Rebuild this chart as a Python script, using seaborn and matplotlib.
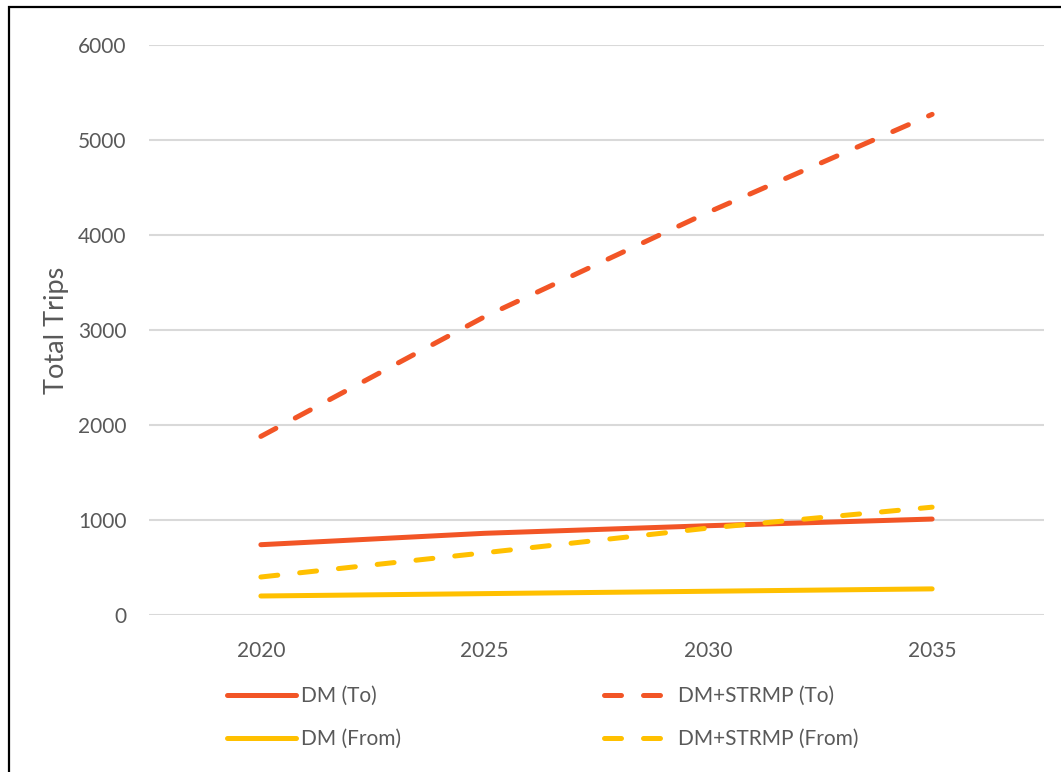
import matplotlib
matplotlib.use("Agg")
import matplotlib.pyplot as plt
import matplotlib.patches as mpatches
import seaborn as sns
import pandas as pd

years = ["2020", "2025", "2030", "2035"]
dm_to = [740, 860, 940, 1010]
dm_from = [200, 225, 250, 275]
strmp_to = [1880, 3140, 4240, 5270]
strmp_from = [400, 655, 915, 1135]

series_names = ["DM (To)", "DM (From)", "DM+STRMP (To)", "DM+STRMP (From)"]
series_values = [dm_to, dm_from, strmp_to, strmp_from]
colors = {"DM (To)": "#F25526", "DM (From)": "#FFC000",
          "DM+STRMP (To)": "#F25526", "DM+STRMP (From)": "#FFC000"}
dashes = {"DM (To)": "", "DM (From)": "",
          "DM+STRMP (To)": (3.4, 4.4), "DM+STRMP (From)": (3.4, 4.4)}

rows = []
for name, vals in zip(series_names, series_values):
    for y, v in zip(years, vals):
        rows.append({"Year": y, "Trips": v, "Series": name})
df = pd.DataFrame(rows)

sns.set_theme(style="white")
plt.rcParams["font.family"] = ["Lato", "DejaVu Sans"]
text_color = "#595959"

fig = plt.figure(figsize=(10.61, 7.72), dpi=100)
ax = fig.add_axes([149 / 1061, 1 - 615 / 772, (1044 - 149) / 1061, (615 - 45) / 772])

sns.lineplot(data=df, x="Year", y="Trips", hue="Series", style="Series",
             hue_order=series_names, style_order=series_names,
             palette=colors, dashes=dashes, linewidth=3.6, ax=ax,
             solid_capstyle="round", dash_capstyle="round", sort=False)

ax.set_xlim(-0.5, 3.5)
ax.set_ylim(0, 6000)
ax.set_yticks([0, 1000, 2000, 3000, 4000, 5000, 6000])
ax.grid(axis="y", color="#D9D9D9", linewidth=1.5)
ax.grid(axis="x", visible=False)
for s in ax.spines.values():
    s.set_visible(False)
ax.tick_params(axis="both", length=0, labelsize=15, colors=text_color)
ax.tick_params(axis="y", pad=16)
ax.tick_params(axis="x", pad=19)
ax.set_xlabel("")
ax.set_ylabel("Total Trips", fontsize=19.5, color=text_color, labelpad=7)

handles, labels = ax.get_legend_handles_labels()
ax.get_legend().remove()
hmap = dict(zip(labels, handles))
order = ["DM (To)", "DM (From)", "DM+STRMP (To)", "DM+STRMP (From)"]
for h in hmap.values():
    h.set_linewidth(3.6)
    h.set_solid_capstyle("round")
    h.set_dash_capstyle("round")
fig.legend([hmap[k] for k in order], order, ncol=2, loc="upper left",
           bbox_to_anchor=(227 / 1061, 1 - 686 / 772), frameon=False,
           fontsize=15, labelcolor=text_color, handlelength=3.3,
           handletextpad=0.25, columnspacing=9.75, labelspacing=1.1,
           borderpad=0, borderaxespad=0)

fig.patches.append(mpatches.Rectangle((8.5 / 1061, -0.5), 2.0, (1 - 6.5 / 772) + 0.5,
                                      transform=fig.transFigure, fill=False,
                                      edgecolor="black", linewidth=1.6))

fig.savefig("out.png", dpi=100, facecolor="white")
